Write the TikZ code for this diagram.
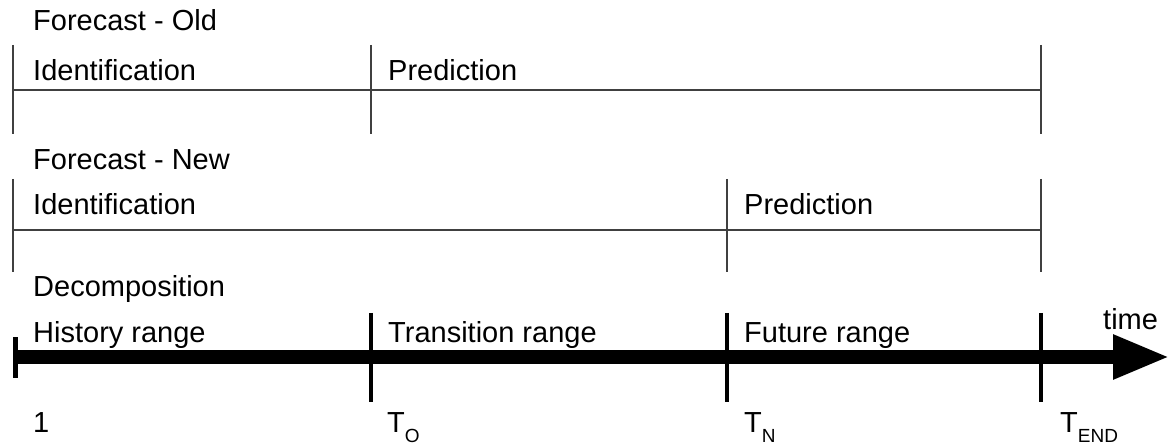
\documentclass[tikz,border=0pt]{standalone}
\usepackage{fontspec}
\setmainfont{Liberation Sans}
\usetikzlibrary{arrows.meta,positioning}

\newcommand{\subT}[1]{T\raisebox{-10pt}{\fontsize{19}{22}\selectfont #1}}

\begin{document}
\begin{tikzpicture}[x=1pt,y=-1pt,
  every node/.style={font=\fontsize{29}{34}\selectfont,inner sep=0pt,anchor=base west},
  frame/.style={draw=black!75,line width=1.5pt},
  tick/.style={draw=black,line width=3.5pt},
  timeline/.style={draw=black,line width=14pt,-{Triangle[length=57pt,width=41pt]}}]
\useasboundingbox (0,0) rectangle (1170,446);

% forecast - old
\node (fold) at (33,31) {Forecast - Old};
\foreach \x in {13,371,1041} \draw[frame] (\x,45) -- (\x,134);
\draw[frame] (13,90) -- (1041,90);
\node (idold) at (33,81) {Identification};
\node (prold) at (388,81) {Prediction};

% forecast - new
\node (fnew) at (33,170) {Forecast - New};
\foreach \x in {13,727,1041} \draw[frame] (\x,179) -- (\x,272);
\draw[frame] (13,230) -- (1041,230);
\node (idnew) at (33,215) {Identification};
\node (prnew) at (744,215) {Prediction};

% decomposition
\node (dec) at (33,297) {Decomposition};
\coordinate (start) at (13,357);
\coordinate (tip) at (1170,357);
\draw[timeline] (start) -- (tip);
\draw[tick,line width=5pt] (15.5,337) -- (15.5,378);
\foreach \x in {371,727,1041} \draw[tick] (\x,313) -- (\x,402);
\node (hist) at (33,342) {History range};
\node (trans) at (388,342) {Transition range};
\node (fut) at (744,342) {Future range};
\node (time) at (1103,330) {time};

% time points
\node (one) at (33,432) {1};
\node (to) at (387,432) {\subT{O}};
\node (tn) at (744,432) {\subT{N}};
\node (tend) at (1060,432) {\subT{END}};
\end{tikzpicture}
\end{document}
